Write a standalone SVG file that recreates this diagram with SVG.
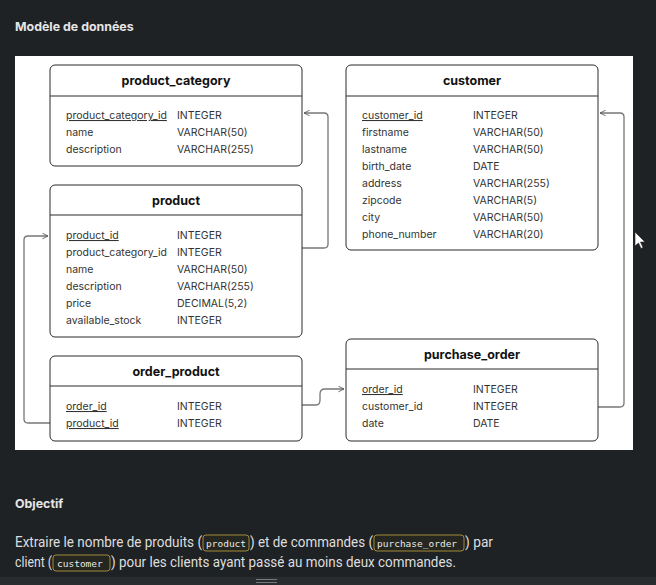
<svg xmlns="http://www.w3.org/2000/svg" width="656" height="585" viewBox="0 0 656 585">
<defs>
<marker id="arr" viewBox="0 0 10 10" refX="9" refY="5" markerWidth="7" markerHeight="7" orient="auto" markerUnits="userSpaceOnUse">
<path d="M1,1 L9,5 L1,9" fill="none" stroke="#555" stroke-width="1.2"/>
</marker>
</defs>
<style>
.box{fill:#fff;stroke:#2a2a2a;stroke-width:1}
.hl{stroke:#2a2a2a;stroke-width:1}
.title{font-family:Inter,"Liberation Sans",sans-serif;font-weight:700;font-size:12.5px;fill:#111;text-anchor:middle}
.f{font-family:Inter,"Liberation Sans",sans-serif;font-size:10.5px;fill:#333}
.pk{text-decoration:underline}
.conn{fill:none;stroke:#777;stroke-width:1.3}
.h{font-family:Inter,"Liberation Sans",sans-serif;font-weight:700;font-size:12.4px;fill:#e6e6e6}
.p{font-family:Roboto,"Liberation Sans",sans-serif;font-size:14px;fill:#dedede}
.chip{fill:#25261f;stroke:#a08a3a;stroke-width:1}
.code{font-family:"DejaVu Sans Mono","Liberation Mono",monospace;font-size:9.5px;fill:#e8e8e8}
</style>
<rect x="0" y="0" width="656" height="585" fill="#1f2225"/>
<text class="h" x="15" y="31">Modèle de données</text>
<rect x="15" y="56" width="618" height="394" fill="#fff"/>

<g id="connectors">
<path class="conn" d="M302,248 H324 Q328,248 328,244 V117 Q328,113 324,113 H304" marker-end="url(#arr)"/>
<path class="conn" d="M50,423 H28 Q24,423 24,419 V240 Q24,236 28,236 H48" marker-end="url(#arr)"/>
<path class="conn" d="M302,405 H316 Q320,405 320,400 V394 Q320,389 325,389 H344" marker-end="url(#arr)"/>
<path class="conn" d="M598,407 H620 Q624,407 624,403 V117 Q624,113 620,113 H600" marker-end="url(#arr)"/>
</g>

<g id="product_category">
<rect class="box" x="50" y="65" width="252" height="101" rx="5"/>
<line class="hl" x1="50" y1="96" x2="302" y2="96"/>
<text class="title" x="176" y="85">product_category</text>
<text class="f pk" x="66" y="119">product_category_id</text><text class="f" x="177" y="119">INTEGER</text>
<text class="f" x="66" y="136">name</text><text class="f" x="177" y="136">VARCHAR(50)</text>
<text class="f" x="66" y="153">description</text><text class="f" x="177" y="153">VARCHAR(255)</text>
</g>

<g id="product">
<rect class="box" x="50" y="185" width="252" height="152" rx="5"/>
<line class="hl" x1="50" y1="215" x2="302" y2="215"/>
<text class="title" x="176" y="205">product</text>
<text class="f pk" x="66" y="239">product_id</text><text class="f" x="177" y="239">INTEGER</text>
<text class="f" x="66" y="256">product_category_id</text><text class="f" x="177" y="256">INTEGER</text>
<text class="f" x="66" y="273">name</text><text class="f" x="177" y="273">VARCHAR(50)</text>
<text class="f" x="66" y="290">description</text><text class="f" x="177" y="290">VARCHAR(255)</text>
<text class="f" x="66" y="307">price</text><text class="f" x="177" y="307">DECIMAL(5,2)</text>
<text class="f" x="66" y="324">available_stock</text><text class="f" x="177" y="324">INTEGER</text>
</g>

<g id="order_product">
<rect class="box" x="50" y="356" width="252" height="85" rx="5"/>
<line class="hl" x1="50" y1="386" x2="302" y2="386"/>
<text class="title" x="176" y="376">order_product</text>
<text class="f pk" x="66" y="410">order_id</text><text class="f" x="177" y="410">INTEGER</text>
<text class="f pk" x="66" y="427">product_id</text><text class="f" x="177" y="427">INTEGER</text>
</g>

<g id="customer">
<rect class="box" x="346" y="65" width="252" height="185" rx="5"/>
<line class="hl" x1="346" y1="96" x2="598" y2="96"/>
<text class="title" x="472" y="85">customer</text>
<text class="f pk" x="362" y="119">customer_id</text><text class="f" x="473" y="119">INTEGER</text>
<text class="f" x="362" y="136">firstname</text><text class="f" x="473" y="136">VARCHAR(50)</text>
<text class="f" x="362" y="153">lastname</text><text class="f" x="473" y="153">VARCHAR(50)</text>
<text class="f" x="362" y="170">birth_date</text><text class="f" x="473" y="170">DATE</text>
<text class="f" x="362" y="187">address</text><text class="f" x="473" y="187">VARCHAR(255)</text>
<text class="f" x="362" y="204">zipcode</text><text class="f" x="473" y="204">VARCHAR(5)</text>
<text class="f" x="362" y="221">city</text><text class="f" x="473" y="221">VARCHAR(50)</text>
<text class="f" x="362" y="238">phone_number</text><text class="f" x="473" y="238">VARCHAR(20)</text>
</g>

<g id="purchase_order">
<rect class="box" x="346" y="339" width="252" height="102" rx="5"/>
<line class="hl" x1="346" y1="369" x2="598" y2="369"/>
<text class="title" x="472" y="359">purchase_order</text>
<text class="f pk" x="362" y="393">order_id</text><text class="f" x="473" y="393">INTEGER</text>
<text class="f" x="362" y="410">customer_id</text><text class="f" x="473" y="410">INTEGER</text>
<text class="f" x="362" y="427">date</text><text class="f" x="473" y="427">DATE</text>
</g>

<path d="M635,232 L635,246 L638.5,243 L641,248.5 L643,247.5 L640.5,242 L645,242 Z" fill="#fff" stroke="#222" stroke-width="0.6"/>

<text class="h" x="15" y="508">Objectif</text>
<text class="p" x="15" y="547" textLength="187" lengthAdjust="spacingAndGlyphs">Extraire le nombre de produits (</text>
<rect class="chip" x="203" y="535" width="46" height="16" rx="3"/>
<text class="code" x="206" y="547">product</text>
<text class="p" x="250" y="547" textLength="123" lengthAdjust="spacingAndGlyphs">) et de commandes (</text>
<rect class="chip" x="374" y="535" width="90" height="16" rx="3"/>
<text class="code" x="377" y="547">purchase_order</text>
<text class="p" x="465" y="547" textLength="28" lengthAdjust="spacingAndGlyphs">) par</text>
<text class="p" x="15" y="567" textLength="37" lengthAdjust="spacingAndGlyphs">client (</text>
<rect class="chip" x="53" y="555" width="57" height="16" rx="3"/>
<text class="code" x="57" y="567">customer</text>
<text class="p" x="111" y="567" textLength="345" lengthAdjust="spacingAndGlyphs">) pour les clients ayant passé au moins deux commandes.</text>

<rect x="0" y="577" width="656" height="8" fill="#2a2d30"/>
<line x1="256" y1="579.5" x2="277" y2="579.5" stroke="#777" stroke-width="1"/>
<line x1="256" y1="582.5" x2="277" y2="582.5" stroke="#777" stroke-width="1"/>
</svg>
